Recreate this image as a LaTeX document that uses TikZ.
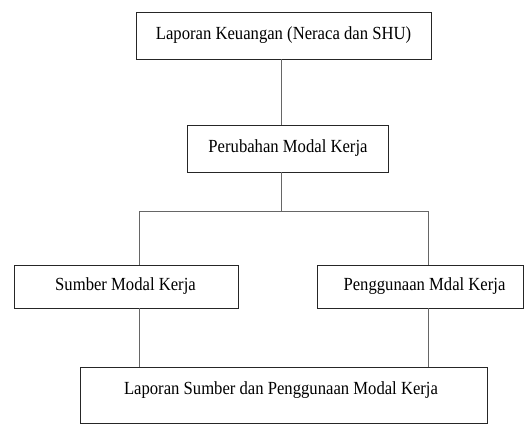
\documentclass[tikz,border=0pt]{standalone}
\usepackage{fontspec}
\usepackage{graphicx}
\setmainfont{Liberation Serif}
\newcommand{\narrowtext}[1]{\scalebox{0.9}[1]{#1}}
\begin{document}
\begin{tikzpicture}[x=1pt,y=-1pt,
  box/.style={draw=black!85, line width=0.9pt, inner sep=0pt},
  conn/.style={draw=black!60, line width=0.9pt},
  lbl/.style={font=\fontsize{18.5}{21}\selectfont, anchor=center, inner sep=0pt}]
\useasboundingbox[fill=white] (0,0) rectangle (526,424);
% boxes
\draw[box] (136,12) rectangle (431,59);
\node[lbl] (t1) at (283.5,35) {\narrowtext{Laporan Keuangan (Neraca dan SHU)}};
\coordinate (b1) at (281,59);
\draw[box] (187,125) rectangle (388,172);
\node[lbl] (t2) at (288,148) {\narrowtext{Perubahan Modal Kerja}};
\coordinate (b2t) at (281,125);
\coordinate (b2b) at (281,172);
\draw[box] (14,265) rectangle (238,308);
\node[lbl] (t3) at (125.5,286) {\narrowtext{Sumber Modal Kerja}};
\draw[box] (317,265) rectangle (523,308);
\node[lbl] (t4) at (424.5,286) {\narrowtext{Penggunaan Mdal Kerja}};
\draw[box] (80,367) rectangle (487,423);
\node[lbl] (t5) at (281,390) {\narrowtext{Laporan Sumber dan Penggunaan Modal Kerja}};
% connectors
\coordinate (j) at (281,211);
\coordinate (hl) at (139,211);
\coordinate (hr) at (428,211);
\coordinate (s3t) at (139,265);
\coordinate (s4t) at (428,265);
\coordinate (s3b) at (139,308);
\coordinate (s4b) at (428,308);
\coordinate (s5l) at (139,367);
\coordinate (s5r) at (428,367);
\draw[conn] (b1) -- (b2t);
\draw[conn] (b2b) -- (j);
\draw[conn] (hl) -- (hr);
\draw[conn] (hl) -- (s3t);
\draw[conn] (hr) -- (s4t);
\draw[conn] (s3b) -- (s5l);
\draw[conn] (s4b) -- (s5r);
\end{tikzpicture}
\end{document}
